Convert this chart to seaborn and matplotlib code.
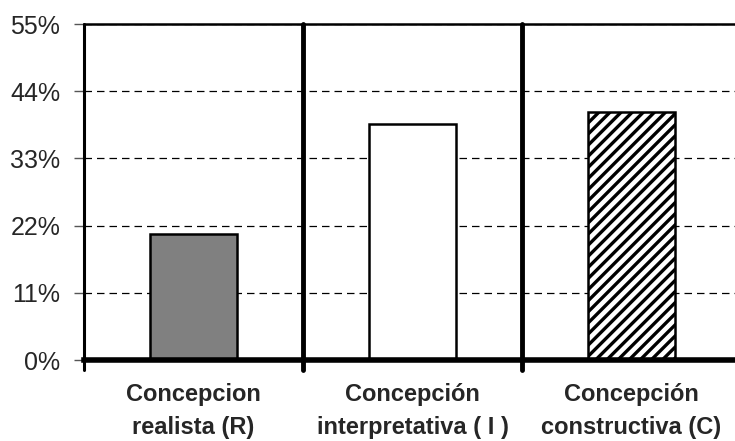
import seaborn as sns
from matplotlib import pyplot as plt
from matplotlib.ticker import FuncFormatter

categorias = ['Concepcion\nrealista (R)', 'Concepción\ninterpretativa ( I )', 'Concepción\nconstructiva (C)']
porcentajes = [20.7, 38.6, 40.6]
colores = ['#808080', '#ffffff', '#ffffff']
ticks_y = [0, 11, 22, 33, 44, 55]

sns.set_style('white')
plt.rcParams['font.family'] = ['Liberation Sans', 'DejaVu Sans']
plt.rcParams['hatch.linewidth'] = 2.4

fig = plt.figure(figsize=(7.35, 4.41), dpi=100)
ax = fig.add_axes([84 / 735, 1 - 360 / 441, 657 / 735, 336 / 441])

sns.barplot(x=categorias, y=porcentajes, hue=categorias, palette=colores,
            edgecolor='black', linewidth=1.8, width=0.4, legend=False, ax=ax)
ax.patches[2].set_hatch('///')

ax.set_xlim(-0.5, 2.5)
ax.set_ylim(0, 55)
ax.set_yticks(ticks_y)
ax.yaxis.set_major_formatter(FuncFormatter(lambda v, p: f'{v:.0f}%'))
ax.set_axisbelow(True)
ax.yaxis.grid(True, color='black', linestyle=(0, (6, 4)), linewidth=0.9)

# separadores entre categorias
for xs in [-0.5, 0.5, 1.5]:
    lw = 2.2 if xs == -0.5 else 3.5
    ax.axvline(xs, ymin=-0.03, ymax=1, color='black', linewidth=lw, clip_on=False, zorder=5)

ax.spines['left'].set_visible(False)
ax.spines['right'].set_visible(False)
ax.spines['top'].set_linewidth(1.8)
ax.spines['bottom'].set_linewidth(4)
for s in ['top', 'bottom']:
    ax.spines[s].set_color('black')
ax.spines['bottom'].set_zorder(6)

ax.tick_params(axis='y', left=True, length=7, width=1, color='#555555', labelsize=18, pad=10)
ax.tick_params(axis='x', bottom=False, pad=13)
for lbl in ax.get_xticklabels():
    lbl.set_fontsize(17)
    lbl.set_fontweight('bold')
    lbl.set_linespacing(1.55)
ax.set_xlabel('')
ax.set_ylabel('')

fig.savefig('out.png', dpi=100)
